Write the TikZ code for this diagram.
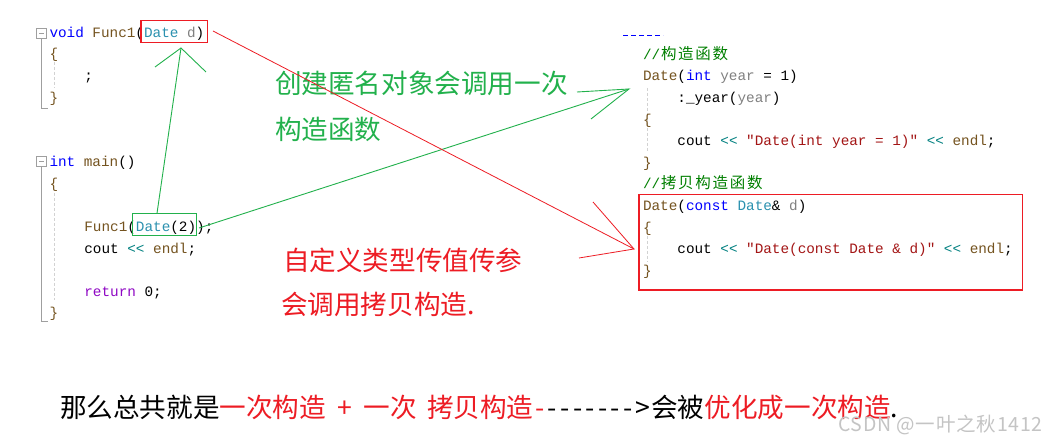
\documentclass[tikz,border=0pt]{standalone}
\usepackage{fontspec}
\setmainfont{Liberation Sans}
\newfontfamily\codefont{Liberation Mono}
\newfontfamily\cjk{Noto Sans CJK SC}
\newfontfamily\wmfont[LetterSpace=4]{Noto Sans CJK SC}
\definecolor{kw}{HTML}{0000FF}
\definecolor{fn}{HTML}{74531F}
\definecolor{ty}{HTML}{2B91AF}
\definecolor{pa}{HTML}{808080}
\definecolor{st}{HTML}{A31515}
\definecolor{cm}{HTML}{008000}
\definecolor{op}{HTML}{008080}
\definecolor{rt}{HTML}{8F08C4}
\definecolor{agreen}{HTML}{22B14C}
\definecolor{ared}{HTML}{ED1C24}
\definecolor{wm}{HTML}{C4C4C4}
\newcommand\K[1]{\textcolor{kw}{#1}}
\newcommand\F[1]{\textcolor{fn}{#1}}
\newcommand\T[1]{\textcolor{ty}{#1}}
\newcommand\Pa[1]{\textcolor{pa}{#1}}
\newcommand\Sq[1]{\textcolor{st}{#1}}
\newcommand\Op[1]{\textcolor{op}{#1}}
\newcommand\Rt[1]{\textcolor{rt}{#1}}
\newcommand\zh[1]{\makebox[17.2pt]{\cjk\fontsize{15.5}{16}\selectfont #1}}
\newcommand\dsh{\makebox[12.6pt]{-}}
\frenchspacing
\tikzset{
  code/.style={anchor=base west, inner sep=0pt, outer sep=0pt, font=\codefont\fontsize{14.33}{16}\selectfont},
  note/.style={anchor=base west, inner sep=0pt, outer sep=0pt, font=\cjk\fontsize{26.6}{30}\selectfont},
  wmark/.style={anchor=base west, inner sep=0pt, text=wm, font=\wmfont\fontsize{19.5}{20}\selectfont},
  foldbox/.style={draw=gray!75, line width=0.8pt, minimum width=10pt, minimum height=10pt, inner sep=0pt},
  foldline/.style={draw=gray!75, line width=0.9pt},
  guide/.style={draw=gray!35, line width=0.8pt, dash pattern=on 3pt off 2pt},
  garrow/.style={draw=agreen, line width=0.9pt},
  rarrow/.style={draw=ared, line width=0.8pt},
  hl/.style={line width=1.2pt, inner sep=0pt, outer sep=0pt, anchor=north west}
}
\begin{document}
\begin{tikzpicture}[x=1pt,y=-1pt]
\useasboundingbox[fill=white] (0,0) rectangle (1053,443);

% ---------- left code: Func1 ----------
\node[foldbox] (f1) at (41.7,33.3) {};
\draw[gray!75, line width=0.8pt] (39,33.3) -- (44.4,33.3);
\coordinate (f1end) at (41.7,108);
\draw[foldline] (f1.south) -- (f1end) -- ++(6.5,0);
\draw[guide] (54,62) -- (54,88);
\node[code] (l1) at (49.5,37.3) {\K{void} \F{Func1}(\T{Date} \Pa{d})};
\node[code] (l2) at (49.5,58.9) {\F{\{}};
\node[code] (l3) at (84.4,80.5) {;};
\node[code] (l4) at (49.5,102.1) {\F{\}}};

% ---------- left code: main ----------
\node[foldbox] (f2) at (41.7,161.7) {};
\draw[gray!75, line width=0.8pt] (39,161.7) -- (44.4,161.7);
\coordinate (f2end) at (41.7,321.7);
\draw[foldline] (f2.south) -- (f2end) -- ++(6.5,0);
\draw[guide] (54,193) -- (54,300);
\node[code] (m1) at (49.5,166.7) {\K{int} \F{main}()};
\node[code] (m2) at (49.5,188.3) {\F{\{}};
\node[code] (m3) at (84.4,231.5) {\F{Func1}(\T{Date}(2));};
\node[code] (m4) at (84.4,253.1) {cout \Op{<<} \F{endl};};
\node[code] (m5) at (84.4,296.3) {\Rt{return} 0;};
\node[code] (m6) at (49.5,317.9) {\F{\}}};

% highlight boxes
\node[hl, draw=ared, minimum width=66.3pt, minimum height=22pt] (rb1) at (141,20.7) {};
\node[hl, draw=agreen, minimum width=64.4pt, minimum height=22.4pt] (gb) at (132.3,213.3) {};

% ---------- right code ----------
\draw[blue, line width=1pt, dash pattern=on 5pt off 3pt] (623,36) -- (663,36);
\draw[guide] (647.7,88) -- (647.7,152);
\draw[guide] (647.7,236) -- (647.7,262);
\node[code] (r1) at (643,59.3) {\textcolor{cm}{//\zh{构}\zh{造}\zh{函}\zh{数}}};
\node[code] (r2) at (643,80.9) {\F{Date}(\K{int} \Pa{year} = 1)};
\node[code] (r3) at (677.4,102.5) {:\_year(\Pa{year})};
\node[code] (r4) at (643,124.1) {\F{\{}};
\node[code] (r5) at (677.4,145.7) {cout \Op{<<} \Sq{"Date(int year = 1)"} \Op{<<} \F{endl};};
\node[code] (r6) at (643,167.3) {\F{\}}};
\node[code] (r7) at (643,188.9) {\textcolor{cm}{//\zh{拷}\zh{贝}\zh{构}\zh{造}\zh{函}\zh{数}}};
\node[code] (r8) at (643,210.5) {\F{Date}(\K{const} \T{Date}\& \Pa{d})};
\node[code] (r9) at (643,232.1) {\F{\{}};
\node[code] (r10) at (677.4,253.7) {cout \Op{<<} \Sq{"Date(const Date \& d)"} \Op{<<} \F{endl};};
\node[code] (r11) at (643,275.3) {\F{\}}};
\node[hl, draw=ared, minimum width=383.7pt, minimum height=95.7pt] (rb2) at (639,194.3) {};

% ---------- annotations ----------
\node[note, text=agreen] (g1) at (275,94) {创建匿名对象会调用一次};
\node[note, text=agreen] (g2) at (275,140) {构造函数};
\node[note, text=ared] (n1) at (283,270.5) {自定义类型传值传参};
\node[note, text=ared] (n2) at (281,315) {会调用拷贝构造.};

% ---------- arrows ----------
\coordinate (g1tip) at (181,48);
\coordinate (g1a) at (155,67);
\coordinate (g1b) at (206,72);
\draw[garrow] ([xshift=-7.5pt]gb.north) -- (g1tip);
\draw[garrow] (g1a) -- (g1tip) -- (g1b);

\coordinate (g2tip) at (629,89);
\coordinate (g2a) at (577,92);
\coordinate (g2b) at (591,119);
\draw[garrow] ([xshift=2.3pt,yshift=-3.5pt]gb.east) -- (g2tip);
\draw[garrow] (g2a) -- (g2tip) -- (g2b);

\coordinate (rtip) at (634,249);
\coordinate (ra) at (593,202);
\coordinate (rb) at (579,258);
\draw[rarrow] ([xshift=5.7pt,yshift=0.7pt]rb1.east) -- (rtip);
\draw[rarrow] (ra) -- (rtip) -- (rb);

% ---------- bottom line ----------
\node[note, text=black] (b1) at (60,418) {那么总共就是};
\node[note, text=ared] (b2) at (b1.base east) {一次构造\makebox[38pt]{+}一次\hspace{10pt}拷贝构造\dsh};
\node[note, text=black] (b3) at (b2.base east) {\dsh\dsh\dsh\dsh\dsh\dsh\dsh\makebox[17pt]{>}会被};
\node[note, text=ared] (b4) at (b3.base east) {优化成一次构造};
\node[note, text=black] (b5) at (b4.base east) {.};

\node[wmark] (wm) at (838,432) {CSDN @一叶之秋1412};
\end{tikzpicture}
\end{document}
